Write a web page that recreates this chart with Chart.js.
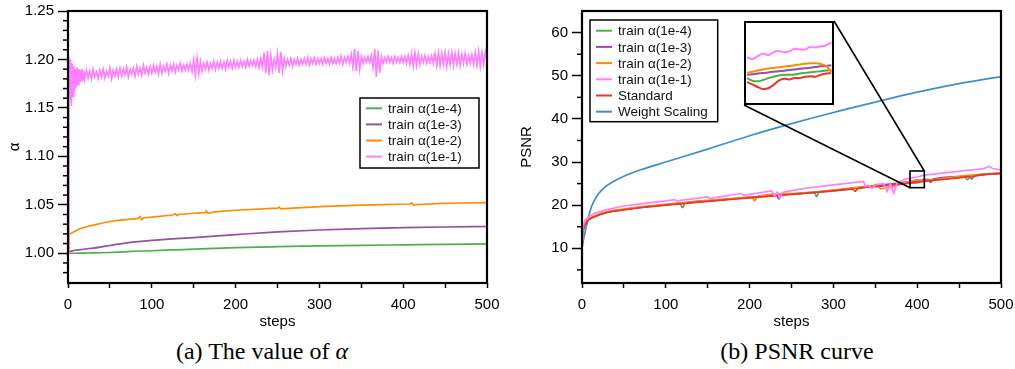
<!DOCTYPE html>
<html>
<head>
<meta charset="utf-8">
<script src="https://cdn.jsdelivr.net/npm/chart.js@4.4.0/dist/chart.umd.min.js"></script>
<style>
html, body { margin: 0; padding: 0; background: #fff; width: 1015px; height: 369px; overflow: hidden; }
canvas { position: absolute; }
#cA { left: 0; top: 0; }
#cB { left: 505px; top: 0; }
#cInset { left: 744px; top: 21px; background: #fff; }
.cap { position: absolute; top: 338px; font-family: 'Liberation Serif', 'Times New Roman', serif; font-size: 24px; white-space: nowrap; transform: translateX(-50%); color: #000; }
</style>
</head>
<body>
<canvas id="cA" width="505" height="335"></canvas>
<canvas id="cB" width="510" height="335"></canvas>
<canvas id="cInset" width="90" height="84"></canvas>
<div class="cap" style="left:262px">(a) The value of <i>α</i></div>
<div class="cap" style="left:797px">(b) PSNR curve</div>
<script>
// ---- data ----
const seriesNames = ['train α(1e-4)', 'train α(1e-3)', 'train α(1e-2)', 'train α(1e-1)', 'Standard', 'Weight Scaling'];
const seriesColors = ['#4daf4a', '#984ea3', '#ff8c00', '#ff80ff', '#e8372a', '#3d8ec9'];

const stepTicks = [0, 50, 100, 150, 200, 250, 300, 350, 400, 450, 500];
const alphaTicks = [1.00, 1.05, 1.10, 1.15, 1.20, 1.25];
const alphaMinor = [0.98, 0.99, 1.01, 1.02, 1.03, 1.04, 1.06, 1.07, 1.08, 1.09, 1.11, 1.12, 1.13, 1.14, 1.16, 1.17, 1.18, 1.19, 1.21, 1.22, 1.23, 1.24];
const psnrTicks = [10, 20, 30, 40, 50, 60];
const psnrMinor = [5, 15, 25, 35, 45, 55];

// (a) alpha
const alphaSteps = [0, 1, 2, 5, 10, 15, 20, 30, 40, 50, 60, 75, 100, 125, 150, 175, 200, 250, 300, 350, 400, 450, 500];
const alphaGreen = [1.0000, 1.0000, 1.0000, 1.0000, 1.0000, 1.0001, 1.0002, 1.0003, 1.0005, 1.0008, 1.0012, 1.0019, 1.0026, 1.0034, 1.0042, 1.0050, 1.0058, 1.0068, 1.0076, 1.0082, 1.0087, 1.0092, 1.0096];
const alphaPurple = [1.0015, 1.0017, 1.0019, 1.0025, 1.0032, 1.0038, 1.0043, 1.0053, 1.0066, 1.0080, 1.0094, 1.0112, 1.0132, 1.0148, 1.0162, 1.0177, 1.0192, 1.0220, 1.0240, 1.0254, 1.0264, 1.0271, 1.0276];

const orangeAlphaSteps = [0, 1, 2, 5, 10, 15, 20, 30, 40, 50, 60, 75, 84, 86, 88, 90, 100, 125, 128, 130, 132, 150, 163, 165, 167, 175, 200, 250, 252, 254, 300, 350, 408, 410, 412, 450, 500];
const alphaOrange = [1.0000, 1.0180, 1.0200, 1.0212, 1.0235, 1.0255, 1.0268, 1.0290, 1.0310, 1.0328, 1.0340, 1.0353, 1.0360, 1.0380, 1.0345, 1.0364, 1.0372, 1.0395, 1.0408, 1.0388, 1.0400, 1.0413, 1.0420, 1.0436, 1.0412, 1.0428, 1.0444, 1.0465, 1.0477, 1.0458, 1.0482, 1.0497, 1.0508, 1.0520, 1.0500, 1.0516, 1.0523];

// steps 0..20, then every 2 steps up to 500
const pinkAlphaSteps = [...Array(21).keys(), ...Array.from({ length: 240 }, (_, i) => 22 + 2 * i)];
const alphaPink = [
  1.000, 1.202, 1.158, 1.200, 1.152, 1.196, 1.162, 1.193, 1.168, 1.190, 1.171, 1.192, 1.174, 1.190, 1.176, 1.189, 1.177, 1.190, 1.179, 1.188, 1.180,
  1.189, 1.181, 1.188, 1.180, 1.190, 1.182, 1.187, 1.180, 1.189, 1.182,
  1.190, 1.181, 1.188, 1.183, 1.191, 1.180, 1.189, 1.183, 1.190, 1.182,
  1.191, 1.183, 1.190, 1.184, 1.192, 1.182, 1.190, 1.185, 1.191, 1.183,
  1.193, 1.185, 1.191, 1.184, 1.194, 1.186, 1.192, 1.185, 1.193, 1.186,
  1.194, 1.187, 1.193, 1.185, 1.195, 1.186, 1.193, 1.188, 1.195, 1.186,
  1.194, 1.188, 1.195, 1.187, 1.194, 1.189, 1.196, 1.188, 1.194, 1.189,
  1.195, 1.189, 1.196, 1.188, 1.200, 1.184, 1.201, 1.185, 1.198, 1.188,
  1.196, 1.190, 1.197, 1.189, 1.196, 1.191, 1.198, 1.190, 1.197, 1.191,
  1.198, 1.191, 1.197, 1.190, 1.199, 1.192, 1.198, 1.191, 1.199, 1.192,
  1.198, 1.192, 1.199, 1.193, 1.198, 1.192, 1.200, 1.193, 1.199, 1.194,
  1.199, 1.193, 1.200, 1.192, 1.201, 1.192, 1.207, 1.186, 1.209, 1.184,
  1.204, 1.189, 1.200, 1.192, 1.206, 1.186, 1.208, 1.188, 1.201, 1.193,
  1.200, 1.194, 1.201, 1.193, 1.200, 1.195, 1.201, 1.194, 1.200, 1.195,
  1.201, 1.195, 1.202, 1.194, 1.201, 1.196, 1.202, 1.195, 1.201, 1.196,
  1.201, 1.195, 1.202, 1.196, 1.201, 1.195, 1.202, 1.196, 1.201, 1.196,
  1.202, 1.196, 1.203, 1.195, 1.202, 1.197, 1.203, 1.196, 1.205, 1.192,
  1.211, 1.188, 1.209, 1.190, 1.203, 1.196, 1.202, 1.197, 1.203, 1.197,
  1.204, 1.192, 1.211, 1.182, 1.209, 1.186, 1.203, 1.196, 1.202, 1.197,
  1.203, 1.197, 1.202, 1.196, 1.203, 1.197, 1.202, 1.197, 1.203, 1.197,
  1.203, 1.196, 1.204, 1.195, 1.206, 1.193, 1.207, 1.194, 1.206, 1.195,
  1.203, 1.197, 1.204, 1.196, 1.203, 1.197, 1.204, 1.196, 1.206, 1.194,
  1.207, 1.194, 1.206, 1.195, 1.207, 1.193, 1.206, 1.195, 1.207, 1.194,
  1.206, 1.195, 1.207, 1.194, 1.205, 1.196, 1.206, 1.195, 1.204, 1.196,
  1.205, 1.195, 1.207, 1.194, 1.208, 1.193, 1.207, 1.195, 1.208, 1.199
];

// (b) PSNR
const greenSteps = [0, 1, 2, 4, 8, 15, 30, 50, 70, 100, 117, 120, 123, 150, 200, 250, 277, 280, 283, 300, 350, 392, 400, 408, 450, 457, 460, 463, 500];
const greenPsnr = [11.6, 13.6, 14.7, 15.7, 16.7, 17.4, 18.4, 19.0, 19.5, 20.1, 20.4, 19.4, 20.5, 21.0, 21.8, 22.6, 23.0, 22.0, 23.1, 23.4, 24.45, 25.3, 25.45, 25.67, 26.45, 26.55, 25.9, 26.65, 27.35];
const purpleSteps = [0, 1, 2, 4, 8, 15, 30, 50, 70, 100, 150, 200, 232, 235, 238, 250, 300, 350, 392, 400, 408, 413, 416, 419, 450, 500];
const purplePsnr = [11.7, 13.7, 14.8, 15.7, 16.7, 17.4, 18.4, 19.0, 19.5, 20.1, 21.0, 21.8, 22.3, 21.4, 22.4, 22.6, 23.4, 24.55, 25.45, 25.67, 25.89, 26.0, 25.3, 26.05, 26.6, 27.45];
const orangeSteps = [0, 1, 2, 4, 8, 15, 30, 50, 70, 100, 150, 200, 203, 206, 209, 250, 300, 350, 353, 356, 392, 400, 408, 450, 500];
const orangePsnr = [11.8, 13.8, 14.9, 15.8, 16.8, 17.5, 18.5, 19.1, 19.6, 20.2, 21.1, 21.9, 21.95, 21.0, 22.0, 22.7, 23.5, 24.6, 24.65, 23.8, 25.55, 25.86, 25.7, 26.7, 27.5];
const pinkSteps = [0, 1, 2, 4, 8, 15, 30, 50, 70, 100, 110, 114, 118, 150, 153, 156, 190, 193, 200, 226, 230, 233, 236, 239, 242, 266, 300, 336, 338, 342, 346, 350, 360, 364, 368, 372, 376, 385, 392, 400, 408, 425, 465, 478, 486, 490, 500];
const pinkPsnr = [12.0, 14.5, 15.6, 16.6, 17.3, 18.1, 19.0, 19.8, 20.3, 21.0, 21.3, 20.9, 21.1, 21.9, 21.5, 21.7, 22.7, 22.3, 22.5, 23.3, 22.2, 23.0, 21.7, 22.9, 23.1, 23.9, 24.7, 25.5, 24.4, 24.6, 23.8, 24.8, 25.0, 23.2, 24.9, 22.8, 25.2, 26.0, 26.26, 26.53, 26.95, 27.3, 28.2, 28.4, 29.0, 28.5, 28.2];
const redSteps = [0, 1, 2, 4, 8, 15, 30, 50, 70, 100, 150, 200, 250, 300, 323, 326, 329, 350, 392, 400, 408, 450, 462, 465, 468, 500];
const redPsnr = [11.5, 13.5, 14.6, 15.6, 16.6, 17.3, 18.3, 18.9, 19.4, 20.0, 20.9, 21.7, 22.5, 23.3, 23.7, 23.2, 23.8, 24.3, 25.12, 25.24, 25.52, 26.3, 26.6, 26.1, 26.7, 27.3];
const blueSteps = [0, 2, 4, 6, 8, 12, 18, 25, 35, 50, 70, 100, 150, 200, 250, 300, 350, 400, 450, 500];
const bluePsnr = [10.0, 12.2, 14.0, 15.8, 17.5, 20.0, 22.2, 23.8, 25.2, 26.7, 28.2, 30.0, 33.0, 36.1, 38.9, 41.5, 43.9, 46.2, 48.2, 49.8];

// zoomed region (inset)
const insetRange = { x0: 391.4, x1: 408.5, y0: 24.06, y1: 27.93 };
const insetSteps = [392, 393, 394, 395, 396, 397, 398, 399, 400, 401, 402, 403, 404, 405, 406, 407, 408];
const insetGreen = [25.30, 25.18, 25.15, 25.21, 25.30, 25.36, 25.42, 25.45, 25.45, 25.46, 25.51, 25.54, 25.57, 25.59, 25.62, 25.65, 25.67];
const insetPurple = [25.45, 25.48, 25.51, 25.53, 25.56, 25.59, 25.62, 25.64, 25.67, 25.70, 25.73, 25.75, 25.78, 25.81, 25.84, 25.86, 25.89];
const insetOrange = [25.55, 25.59, 25.65, 25.70, 25.74, 25.77, 25.80, 25.83, 25.86, 25.89, 25.93, 25.96, 25.98, 25.98, 25.95, 25.86, 25.59];
const insetPink = [26.26, 26.18, 26.31, 26.43, 26.36, 26.49, 26.55, 26.49, 26.53, 26.65, 26.62, 26.62, 26.74, 26.71, 26.77, 26.81, 26.95];
const insetRed = [25.12, 25.01, 24.89, 24.80, 24.83, 24.98, 25.18, 25.27, 25.24, 25.30, 25.30, 25.36, 25.39, 25.36, 25.45, 25.51, 25.52];

// ---- chart setup ----
Chart.defaults.font.family = "'Liberation Sans', Arial, Helvetica, sans-serif";
Chart.defaults.color = '#000';
Chart.defaults.animation = false;

const pts = (xs, ys) => xs.map((x, i) => ({ x: x, y: ys[i] }));

function line(idx, xs, ys, order, smooth) {
  return {
    label: seriesNames[idx],
    data: pts(xs, ys),
    borderColor: seriesColors[idx],
    borderWidth: 1.7,
    pointRadius: 0,
    fill: false,
    order: order,
    cubicInterpolationMode: smooth ? 'monotone' : 'default',
    tension: 0
  };
}

const frame = {
  id: 'frame',
  afterDraw(chart, args, o) {
    const a = chart.chartArea, ctx = chart.ctx, w = o.width || 2, d = o.inset || 0;
    ctx.save();
    ctx.strokeStyle = '#000';
    ctx.lineWidth = w;
    ctx.strokeRect(a.left + d, a.top + d, a.right - a.left - 2 * d, a.bottom - a.top - 2 * d);
    ctx.restore();
  }
};

const minorTicks = {
  id: 'minorTicks',
  afterDraw(chart, args, o) {
    if (!o.values) return;
    const ys = chart.scales.y, ctx = chart.ctx, left = chart.chartArea.left;
    ctx.save();
    ctx.strokeStyle = '#000';
    ctx.lineWidth = 1.5;
    o.values.forEach(v => {
      const py = ys.getPixelForValue(v);
      ctx.beginPath();
      ctx.moveTo(left - o.len, py);
      ctx.lineTo(left, py);
      ctx.stroke();
    });
    ctx.restore();
  }
};

const boxLegend = {
  id: 'boxLegend',
  afterDraw(chart, args, o) {
    if (o.x === undefined) return;
    const ctx = chart.ctx;
    ctx.save();
    ctx.fillStyle = '#fff';
    ctx.fillRect(o.x, o.y, o.w, o.h);
    ctx.strokeStyle = '#000';
    ctx.lineWidth = 1.5;
    ctx.strokeRect(o.x, o.y, o.w, o.h);
    ctx.font = o.font;
    ctx.textBaseline = 'middle';
    chart.data.datasets.forEach((ds, i) => {
      const yy = o.y + o.first + i * o.row;
      ctx.strokeStyle = ds.borderColor;
      ctx.lineWidth = 2;
      ctx.beginPath();
      ctx.moveTo(o.x + 6, yy);
      ctx.lineTo(o.x + 22, yy);
      ctx.stroke();
      ctx.fillStyle = '#111';
      ctx.fillText(ds.label, o.x + 28, yy + 1);
    });
    ctx.restore();
  }
};

const zoomBox = {
  id: 'zoomBox',
  afterDatasetsDraw(chart, args, o) {
    if (o.x0 === undefined) return;
    const xs = chart.scales.x, ys = chart.scales.y, ctx = chart.ctx;
    const x1 = xs.getPixelForValue(o.x0), x2 = xs.getPixelForValue(o.x1);
    const yTop = ys.getPixelForValue(o.y1), yBot = ys.getPixelForValue(o.y0);
    ctx.save();
    ctx.strokeStyle = '#000';
    ctx.lineWidth = 1.6;
    ctx.strokeRect(x1, yTop, x2 - x1, yBot - yTop);
    ctx.beginPath();
    ctx.moveTo(o.boxX + o.boxW, o.boxY);
    ctx.lineTo(x2, yTop);
    ctx.moveTo(o.boxX, o.boxY + o.boxH);
    ctx.lineTo(x1, yBot);
    ctx.stroke();
    ctx.restore();
  }
};

function xAxis() {
  return {
    type: 'linear', min: 0, max: 500,
    afterBuildTicks: s => { s.ticks = stepTicks.map(v => ({ value: v })); },
    ticks: { font: { size: 15 }, color: '#000', padding: 8, autoSkip: false, maxRotation: 0, callback: v => (v % 100 === 0 ? v : '') },
    grid: { drawOnChartArea: false, tickLength: 5, tickColor: '#000', tickWidth: 1.5 },
    border: { display: false },
    title: { display: true, text: 'steps', font: { size: 15 }, color: '#000', padding: { top: 0, bottom: 4 } },
    afterFit: s => { s.height = 52; s.paddingLeft = 0; s.paddingRight = 0; }
  };
}

function yAxis(min, max, tickVals, fmt, title, width, titlePad) {
  return {
    min: min, max: max,
    afterBuildTicks: s => { s.ticks = tickVals.map(v => ({ value: v })); },
    ticks: { font: { size: 15 }, color: '#000', padding: 4, autoSkip: false, callback: fmt },
    grid: { drawOnChartArea: false, tickLength: 10, tickColor: '#000', tickWidth: 1.5 },
    border: { display: false },
    title: { display: true, text: title, font: { size: 15 }, color: '#000', padding: { top: titlePad, bottom: 0 } },
    afterFit: s => { s.width = width; s.paddingTop = 0; s.paddingBottom = 0; }
  };
}

// (a) alpha
new Chart(document.getElementById('cA'), {
  type: 'line',
  data: {
    datasets: [
      line(0, alphaSteps, alphaGreen, 3, true),
      line(1, alphaSteps, alphaPurple, 2, true),
      line(2, orangeAlphaSteps, alphaOrange, 1, false),
      line(3, pinkAlphaSteps, alphaPink, 0, false)
    ]
  },
  options: {
    responsive: false,
    layout: { padding: { left: 0, right: 18, top: 11, bottom: 0 } },
    plugins: {
      legend: { display: false },
      tooltip: { enabled: false },
      frame: { width: 2.2 },
      minorTicks: { values: alphaMinor, len: 5 },
      boxLegend: { x: 360, y: 98, w: 119, h: 70, first: 10.3, row: 16.1, font: "13.5px 'Liberation Sans', Arial, sans-serif" }
    },
    scales: {
      x: xAxis(),
      y: yAxis(0.9693, 1.25, alphaTicks, v => v.toFixed(2), 'α', 68, 6)
    }
  },
  plugins: [frame, minorTicks, boxLegend]
});

// (b) PSNR
new Chart(document.getElementById('cB'), {
  type: 'line',
  data: {
    datasets: [
      line(0, greenSteps, greenPsnr, 4, true),
      line(1, purpleSteps, purplePsnr, 3, true),
      line(2, orangeSteps, orangePsnr, 2, true),
      line(3, pinkSteps, pinkPsnr, 0, false),
      line(4, redSteps, redPsnr, 1, true),
      line(5, blueSteps, bluePsnr, 5, true)
    ]
  },
  options: {
    responsive: false,
    layout: { padding: { left: 0, right: 14, top: 11, bottom: 0 } },
    plugins: {
      legend: { display: false },
      tooltip: { enabled: false },
      frame: { width: 2.2 },
      minorTicks: { values: psnrMinor, len: 5 },
      zoomBox: { x0: insetRange.x0, x1: insetRange.x1, y0: insetRange.y0, y1: insetRange.y1, boxX: 239, boxY: 21, boxW: 90, boxH: 84 },
      boxLegend: { x: 85, y: 20, w: 127.7, h: 101.7, first: 10.7, row: 16.2, font: "13.5px 'Liberation Sans', Arial, sans-serif" }
    },
    scales: {
      x: xAxis(),
      y: yAxis(1.95, 65.03, psnrTicks, v => v, 'PSNR', 77, 13)
    }
  },
  plugins: [frame, minorTicks, zoomBox, boxLegend]
});

// inset
const insetLine = (idx, ys, order) => ({
  label: seriesNames[idx], data: pts(insetSteps, ys), borderColor: seriesColors[idx],
  borderWidth: 2, pointRadius: 0, fill: false, order: order, tension: 0.35
});
new Chart(document.getElementById('cInset'), {
  type: 'line',
  data: {
    datasets: [
      insetLine(0, insetGreen, 4),
      insetLine(1, insetPurple, 3),
      insetLine(2, insetOrange, 2),
      insetLine(3, insetPink, 0),
      insetLine(4, insetRed, 1)
    ]
  },
  options: {
    responsive: false,
    layout: { padding: 0 },
    plugins: { legend: { display: false }, tooltip: { enabled: false }, frame: { width: 2, inset: 1 } },
    scales: {
      x: { type: 'linear', display: false, min: insetRange.x0, max: insetRange.x1 },
      y: { display: false, min: insetRange.y0, max: insetRange.y1 }
    }
  },
  plugins: [frame]
});
</script>
</body>
</html>
